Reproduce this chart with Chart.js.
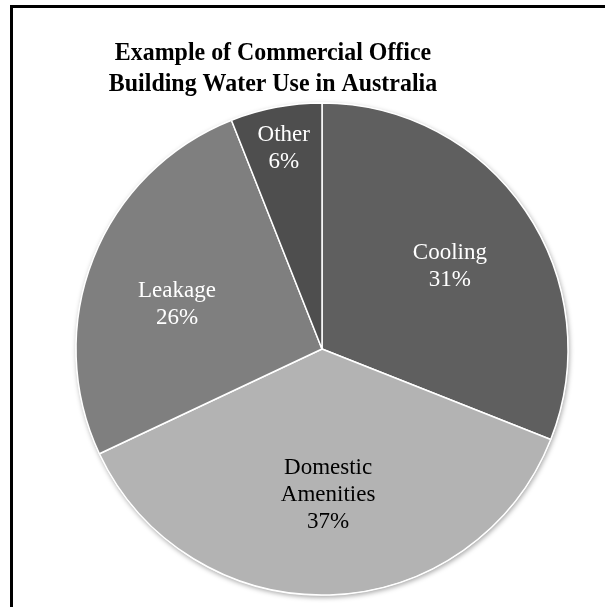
<!DOCTYPE html>
<html>
<head>
<meta charset="utf-8">
<script src="https://cdn.jsdelivr.net/npm/chart.js@4/dist/chart.umd.min.js"></script>
<style>
  html, body { margin: 0; padding: 0; background: #fff; overflow: hidden; width: 605px; height: 607px; }
  #frame { position: absolute; left: 10px; top: 5px; width: 700px; height: 700px; border: 3px solid #000; box-sizing: border-box; }
  #c { position: absolute; left: 0; top: 0; }
</style>
</head>
<body>
<div id="frame"></div>
<canvas id="c" width="605" height="607"></canvas>
<script>
const titleLines = ['Example of Commercial Office', 'Building Water Use in Australia'];
const categories = ['Cooling', 'Domestic Amenities', 'Leakage', 'Other'];
const values = [31, 37, 26, 6];
const sliceColors = ['#5f5f5f', '#b3b3b3', '#7f7f7f', '#4e4e4e'];
const labelColors = ['#ffffff', '#000000', '#ffffff', '#ffffff'];
const labelRadius = [0.618, 0.594, 0.616, 0.83];
const labelAngleShift = [1.5, -0.6, -4.7, 0];

const titlePlugin = {
  id: 'titleOverlay',
  afterDraw(chart) {
    const ctx = chart.ctx;
    ctx.save();
    ctx.font = 'bold 26px "Liberation Serif", "Times New Roman", serif';
    ctx.fillStyle = '#000';
    ctx.textAlign = 'center';
    ctx.textBaseline = 'alphabetic';
    ctx.translate(273, 0);
    ctx.scale(0.92, 1);
    titleLines.forEach((t, i) => ctx.fillText(t, 0, 60 + i * 31));
    ctx.restore();
  }
};

const shadowPlugin = {
  id: 'pieShadow',
  beforeDatasetsDraw(chart) {
    const arc = chart.getDatasetMeta(0).data[0];
    if (!arc) return;
    const ctx = chart.ctx;
    ctx.save();
    ctx.shadowColor = 'rgba(0,0,0,0.35)';
    ctx.shadowBlur = 5;
    ctx.shadowOffsetX = 1;
    ctx.shadowOffsetY = 2;
    ctx.fillStyle = '#ffffff';
    ctx.beginPath();
    ctx.arc(arc.x, arc.y, arc.outerRadius + 0.5, 0, Math.PI * 2);
    ctx.fill();
    ctx.restore();
  }
};

const labelPlugin = {
  id: 'sliceLabels',
  afterDatasetsDraw(chart) {
    const ctx = chart.ctx;
    const meta = chart.getDatasetMeta(0);
    const total = values.reduce((a, b) => a + b, 0);
    ctx.save();
    ctx.font = '23px "Liberation Serif", "Times New Roman", serif';
    ctx.textAlign = 'center';
    ctx.textBaseline = 'middle';
    meta.data.forEach((arc, i) => {
      const mid = (arc.startAngle + arc.endAngle) / 2 + labelAngleShift[i] * Math.PI / 180;
      const r = arc.outerRadius * labelRadius[i];
      const x = arc.x + Math.cos(mid) * r;
      const y = arc.y + Math.sin(mid) * r;
      const lines = categories[i].split(' ').concat([Math.round(values[i] / total * 100) + '%']);
      const lh = 27;
      const y0 = y - (lines.length - 1) * lh / 2;
      ctx.fillStyle = labelColors[i];
      lines.forEach((l, k) => ctx.fillText(l, x, y0 + k * lh));
    });
    ctx.restore();
  }
};

new Chart(document.getElementById('c'), {
  type: 'pie',
  data: {
    labels: categories,
    datasets: [{
      data: values,
      backgroundColor: sliceColors,
      borderColor: '#ffffff',
      borderWidth: 1.5,
      hoverOffset: 0
    }]
  },
  options: {
    responsive: false,
    animation: false,
    layout: { padding: { left: 75.25, right: 36.25, top: 102.25, bottom: 11.25 } },
    plugins: {
      legend: { display: false },
      title: { display: false },
      tooltip: { enabled: false }
    }
  },
  plugins: [shadowPlugin, labelPlugin, titlePlugin]
});
</script>
</body>
</html>
